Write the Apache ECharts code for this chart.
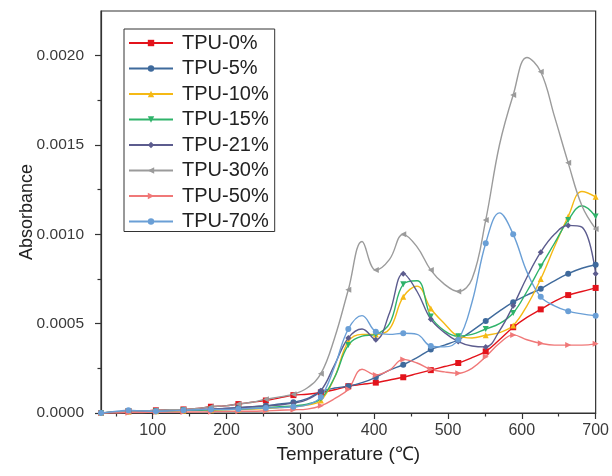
<!DOCTYPE html>
<html>
<head>
<meta charset="utf-8">
<script src="https://cdn.jsdelivr.net/npm/echarts@6/dist/echarts.min.js"></script>
<style>html,body{margin:0;padding:0;background:#fff}#c{width:612px;height:476px}</style>
</head>
<body>
<div id="c"></div>
<script>
var temps = [30, 48.6, 67.2, 85.8, 104.4, 123.1, 141.7, 160.3, 178.9, 197.5, 216.1, 234.7, 253.3, 271.9, 290.6, 309.2, 327.8, 346.4, 365, 383.6, 402.2, 420.8, 439.4, 458.1, 476.7, 495.3, 513.9, 532.5, 551.1, 569.7, 588.3, 606.9, 625.6, 644.2, 662.8, 681.4, 700];

var tpu0 = [0, 0.000005, 0.00001, 0.000012, 0.000015, 0.000018, 0.00002, 0.000025, 0.000035, 0.00004, 0.00005, 0.00006, 0.00007, 0.000085, 0.0001, 0.000105, 0.000115, 0.00013, 0.00015, 0.00016, 0.00017, 0.000185, 0.0002, 0.00022, 0.00024, 0.00026, 0.00028, 0.00031, 0.000345, 0.00041, 0.00048, 0.000535, 0.00058, 0.000625, 0.00066, 0.00068, 0.0007];
var tpu5 = [0, 0.000005, 0.00001, 0.00001, 0.00001, 0.000012, 0.000015, 0.00002, 0.00002, 0.000025, 0.00003, 0.000035, 0.00004, 0.00005, 0.00006, 0.00008, 0.00012, 0.00014, 0.00015, 0.00017, 0.0002, 0.00024, 0.00027, 0.00031, 0.000355, 0.00038, 0.00041, 0.00046, 0.000515, 0.00057, 0.00062, 0.00066, 0.000695, 0.00074, 0.00078, 0.00081, 0.00083];
var tpu10 = [0, 0.000005, 0.000008, 0.00001, 0.00001, 0.00001, 0.000012, 0.000015, 0.000015, 0.000018, 0.00002, 0.000022, 0.000025, 0.00003, 0.000035, 0.000045, 0.00007, 0.0002, 0.0004, 0.00044, 0.00044, 0.00047, 0.00065, 0.00071, 0.000585, 0.0005, 0.00043, 0.00042, 0.000435, 0.00045, 0.00049, 0.0006, 0.00075, 0.00093, 0.0011, 0.00124, 0.00121];
var tpu15 = [0, 0.000005, 0.00001, 0.00001, 0.00001, 0.000012, 0.000015, 0.000015, 0.000018, 0.00002, 0.000022, 0.000025, 0.00003, 0.000035, 0.00004, 0.00005, 0.00008, 0.0002, 0.00038, 0.00043, 0.00044, 0.0005, 0.00072, 0.00074, 0.00054, 0.00046, 0.00043, 0.00044, 0.00047, 0.0005, 0.00056, 0.00068, 0.00082, 0.00095, 0.00108, 0.00116, 0.0011];
var tpu21 = [0, 0.000005, 0.00001, 0.00001, 0.000012, 0.000015, 0.000018, 0.00002, 0.000022, 0.000025, 0.00003, 0.000035, 0.00004, 0.000045, 0.000055, 0.000075, 0.000125, 0.00027, 0.00042, 0.00047, 0.00041, 0.00056, 0.00078, 0.00068, 0.000525, 0.00045, 0.0004, 0.000375, 0.00037, 0.00046, 0.0006, 0.00076, 0.0009, 0.001, 0.00105, 0.00104, 0.00078];
var tpu30 = [0, 0.000005, 0.00001, 0.000012, 0.000015, 0.000018, 0.00002, 0.000025, 0.000035, 0.00004, 0.00005, 0.00006, 0.000077, 0.00009, 0.000105, 0.00014, 0.00022, 0.00042, 0.00069, 0.00096, 0.0008, 0.00086, 0.001, 0.00093, 0.0008, 0.00072, 0.00068, 0.00075, 0.00108, 0.0015, 0.00178, 0.00199, 0.00191, 0.00166, 0.0014, 0.00116, 0.00103];
var tpu50 = [0, 0, 0.000002, 0.000003, 0.000005, 0.000005, 0.000005, 0.000006, 0.000007, 0.000008, 0.00001, 0.00001, 0.000012, 0.000015, 0.000018, 0.000022, 0.00004, 0.00008, 0.000133, 0.000245, 0.000213, 0.00024, 0.0003, 0.00028, 0.000245, 0.00023, 0.000222, 0.00025, 0.000315, 0.00039, 0.000437, 0.00041, 0.00039, 0.00038, 0.00038, 0.00038, 0.000387];
var tpu70 = [0, 0.000008, 0.000015, 0.000012, 0.00001, 0.000012, 0.000015, 0.000018, 0.00002, 0.00002, 0.000022, 0.000025, 0.000028, 0.00003, 0.000035, 0.000045, 0.00009, 0.00026, 0.00047, 0.000545, 0.000455, 0.00044, 0.000446, 0.00044, 0.000375, 0.00037, 0.00041, 0.00062, 0.00095, 0.00112, 0.001, 0.00079, 0.00065, 0.0006, 0.00057, 0.000555, 0.000545];

var seriesNames = ['TPU-0%', 'TPU-5%', 'TPU-10%', 'TPU-15%', 'TPU-21%', 'TPU-30%', 'TPU-50%', 'TPU-70%'];
var seriesValues = [tpu0, tpu5, tpu10, tpu15, tpu21, tpu30, tpu50, tpu70];

var xTicks = [100, 200, 300, 400, 500, 600, 700];
var xMinorTicks = [50, 150, 250, 350, 450, 550, 650];
var yTicks = [0, 0.0005, 0.001, 0.0015, 0.002];
var yMinorTicks = [0.00025, 0.00075, 0.00125, 0.00175];

var colors = ['#e3131b', '#3f6a9c', '#f5b915', '#2fb36a', '#5c5c8e', '#9b9b9b', '#f07878', '#6a9fd6'];
var symbols = ['rect', 'circle', 'triangle', 'triangle', 'diamond', 'triangle', 'triangle', 'circle'];
var rotations = [0, 0, 0, 180, 0, 90, -90, 0];

var chart = echarts.init(document.getElementById('c'), null, {renderer: 'canvas'});
var series = seriesNames.map(function (name, i) {
  return {
    name: name,
    type: 'line',
    xAxisIndex: 0,
    yAxisIndex: 0,
    smooth: 0.4,
    symbol: symbols[i],
    symbolRotate: rotations[i],
    symbolSize: function (v, p) { return p.dataIndex % 2 === 0 ? 6 : 0; },
    showAllSymbol: true,
    lineStyle: {width: 1.4, color: colors[i]},
    itemStyle: {color: colors[i]},
    emphasis: {disabled: true},
    data: temps.map(function (t, k) { return [t, seriesValues[i][k]]; })
  };
});

var axisCol = '#333';
var labelCol = '#3a3a3a';
var font = 'Liberation Sans, Arial, sans-serif';

chart.setOption({
  animation: false,
  color: colors,
  grid: {left: 101, right: 15, top: 11, bottom: 63, show: true, borderColor: axisCol, borderWidth: 1.2, containLabel: false},
  legend: {
    orient: 'vertical',
    left: 124, top: 29,
    padding: [4, 6, 0, 4],
    backgroundColor: '#fff',
    borderColor: axisCol, borderWidth: 1,
    itemWidth: 44, itemHeight: 8, itemGap: 5.5,
    textStyle: {fontFamily: font, fontSize: 20, color: '#222', padding: [0, 0, 0, 4]},
    data: seriesNames
  },
  xAxis: [{
    type: 'value', min: 30, max: 700, position: 'bottom',
    name: 'Temperature (℃)', nameLocation: 'middle', nameGap: 32, nameMoveOverlap: false,
    nameTextStyle: {fontFamily: font, fontSize: 19, color: '#222'},
    axisLine: {show: true, lineStyle: {color: axisCol, width: 1.2}},
    axisTick: {show: true, inside: false, length: 6, customValues: xTicks, lineStyle: {color: axisCol, width: 1.2}},
    axisLabel: {show: true, customValues: xTicks, margin: 10, fontFamily: font, fontSize: 16, color: labelCol},
    splitLine: {show: false}
  }, {
    type: 'value', min: 30, max: 700, position: 'bottom',
    axisLine: {show: false},
    axisTick: {show: true, inside: false, length: 3.5, customValues: xMinorTicks, lineStyle: {color: axisCol, width: 1.2}},
    axisLabel: {show: false},
    splitLine: {show: false}
  }],
  yAxis: [{
    type: 'value', min: 0, max: 0.00225, position: 'left',
    name: 'Absorbance', nameLocation: 'middle', nameGap: 65, nameMoveOverlap: false,
    nameTextStyle: {fontFamily: font, fontSize: 18, color: '#222'},
    axisLine: {show: true, lineStyle: {color: axisCol, width: 1.2}},
    axisTick: {show: true, inside: false, length: 6, customValues: yTicks, lineStyle: {color: axisCol, width: 1.2}},
    axisLabel: {show: true, customValues: yTicks, margin: 17, fontFamily: font, fontSize: 15.5, color: labelCol,
      formatter: function (v) { return v.toFixed(4); }},
    splitLine: {show: false}
  }, {
    type: 'value', min: 0, max: 0.00225, position: 'left',
    axisLine: {show: false},
    axisTick: {show: true, inside: false, length: 3.5, customValues: yMinorTicks, lineStyle: {color: axisCol, width: 1.2}},
    axisLabel: {show: false},
    splitLine: {show: false}
  }],
  series: series
});
</script>
</body>
</html>
